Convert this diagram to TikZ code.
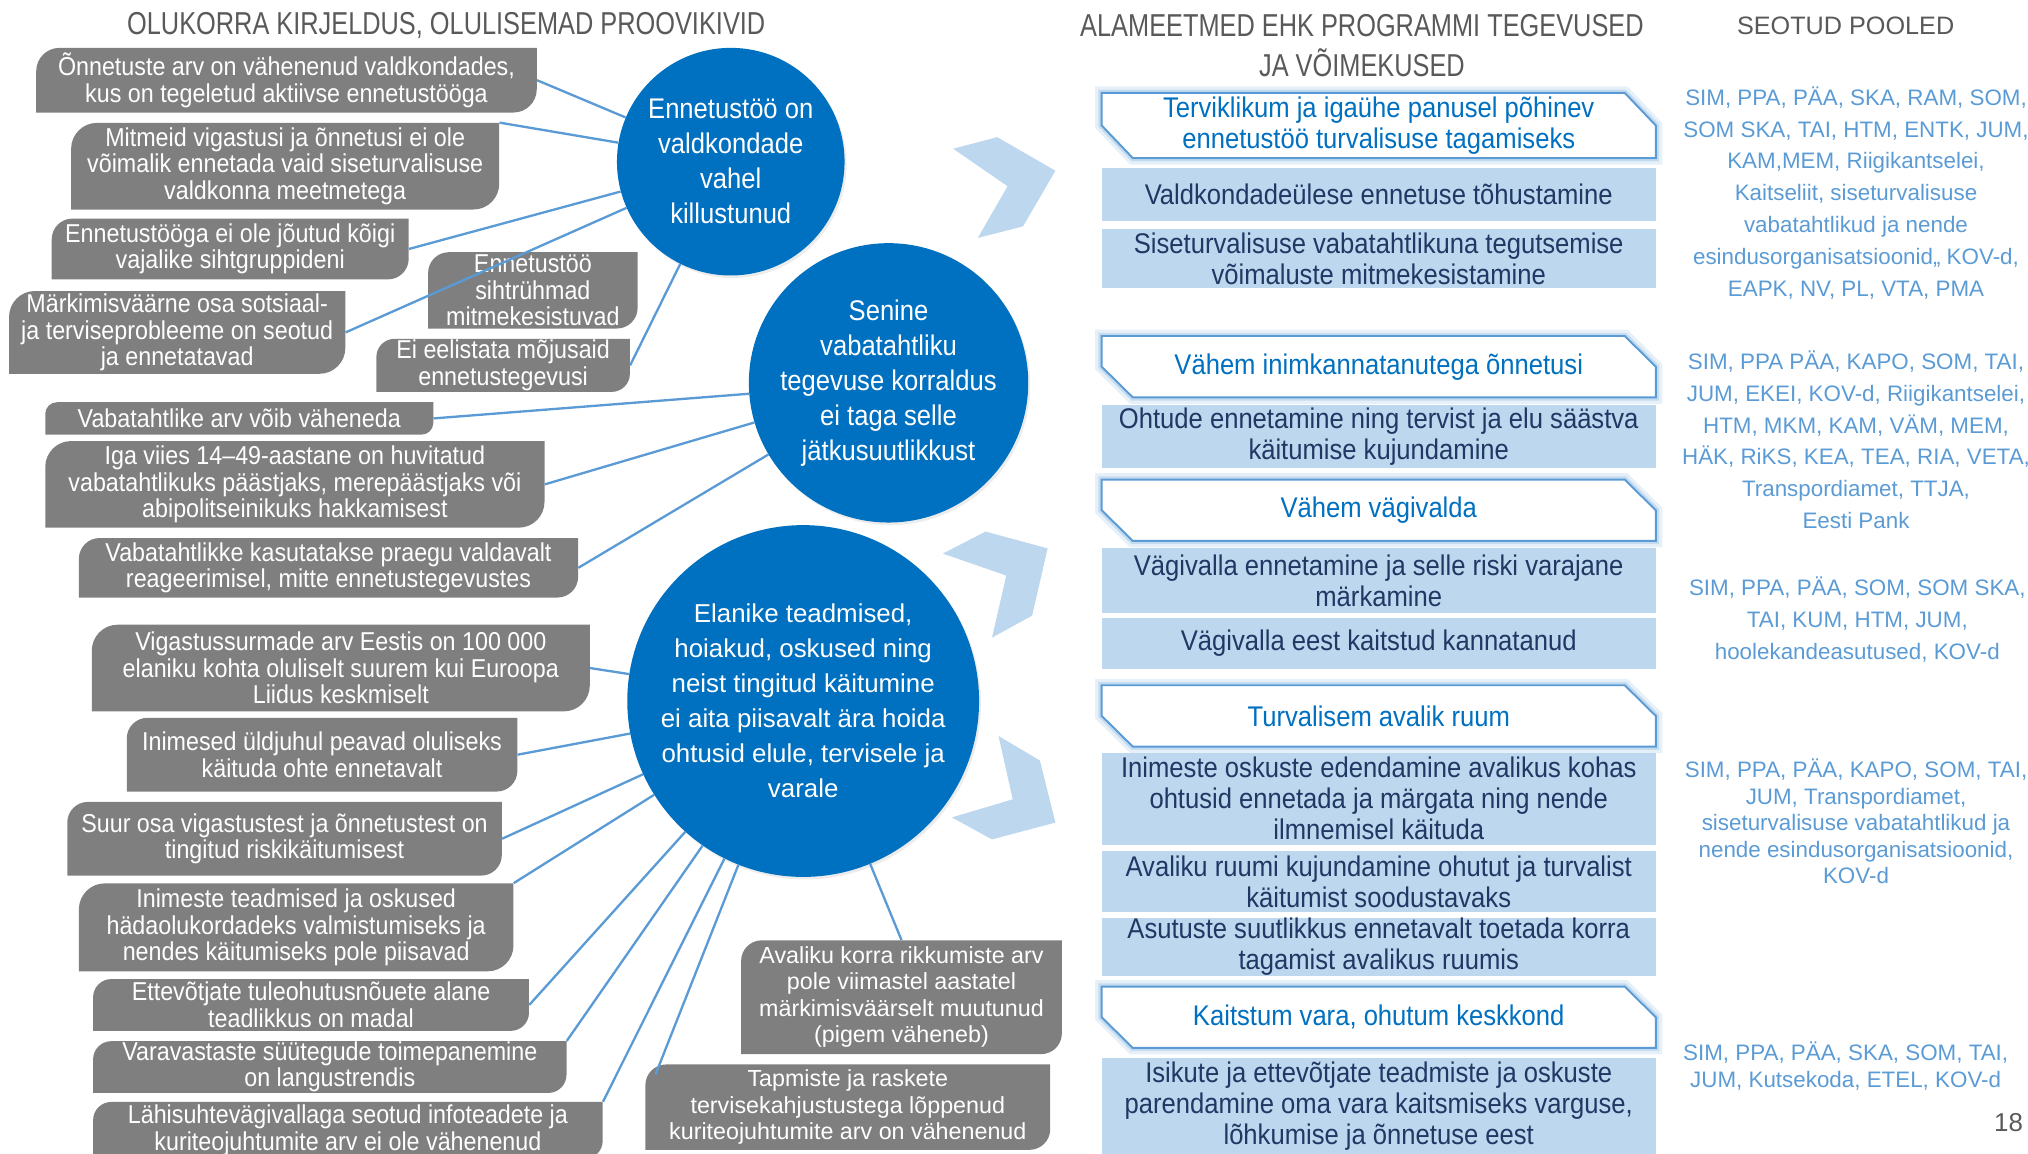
\documentclass[tikz,border=0pt]{standalone}
\usepackage{fontspec}
\setmainfont{Liberation Sans}
\newfontfamily\narrowfont[FakeStretch=0.9]{Liberation Sans}
\newfontfamily\headfont[FakeStretch=0.8]{Liberation Sans}
\usetikzlibrary{calc,backgrounds,shadows}

\definecolor{boxgray}{HTML}{7F7F7F}
\definecolor{circblue}{HTML}{0070C0}
\definecolor{linkblue}{HTML}{5B9BD5}
\definecolor{paleblue}{HTML}{BDD7EE}
\definecolor{navy}{HTML}{1F3864}
\definecolor{headgray}{HTML}{595959}
\definecolor{glowblue}{HTML}{9DC3E6}

\tikzset{
  headline/.style={text=headgray, inner sep=0pt, align=center, font=\headfont\fontsize{24.5}{31}\selectfont},
  case/.style={text=white, inner sep=0pt, align=center, font=\narrowfont\fontsize{20}{20.5}\selectfont,
    path picture={\fill[boxgray] (path picture bounding box.south west)
      -- ([yshift=-#1]path picture bounding box.north west) arc[start angle=180, end angle=90, radius=#1]
      -- (path picture bounding box.north east)
      -- ([yshift=#1]path picture bounding box.south east) arc[start angle=0, end angle=-90, radius=#1]
      -- cycle;}},
  case/.default=16pt,
  fact/.style={case, font=\fontsize{18}{20.5}\selectfont},
  issue/.style={circle, fill=circblue, text=white, inner sep=0pt, align=center,
    font=\narrowfont\fontsize{22}{27}\selectfont,
    drop shadow={opacity=0.15, shadow xshift=1.5pt, shadow yshift=-2pt}},
  task/.style={fill=paleblue, text=navy, inner sep=0pt, align=center, minimum width=428,
    font=\narrowfont\fontsize{22}{24}\selectfont},
  goal/.style={text=circblue, inner sep=0pt, align=center, minimum width=428,
    font=\narrowfont\fontsize{22}{24}\selectfont},
  flag/.style={fill=white, draw=linkblue, line width=1.5pt,
    preaction={draw=glowblue, line width=10pt, opacity=0.25},
    preaction={draw=glowblue, line width=5pt, opacity=0.45}},
  party/.style={text=linkblue, inner sep=0pt, align=center, font=\fontsize{17.3}{24.6}\selectfont},
  link/.style={draw=linkblue, line width=1.8pt},
  hint/.style={fill=paleblue},
}

\begin{document}
\begin{tikzpicture}[x=1pt, y=-1pt]
\useasboundingbox (0,0) rectangle (1568,892);

% headings
\node[headline] (head1) at (345,20) {OLUKORRA KIRJELDUS, OLULISEMAD PROOVIKIVID};
\node[headline] (head2) at (1053,35) {ALAMEETMED EHK PROGRAMMI TEGEVUSED\\JA VÕIMEKUSED};
\node[headline, font=\fontsize{19.5}{24}\selectfont] (head3) at (1427,20) {SEOTUD POOLED};

% problems
\node[issue, minimum size=176] (c1) at (565,125) {Ennetustöö on\\valdkondade\\vahel\\killustunud};
\node[issue, minimum size=216] (c2) at (687,296) {Senine\\vabatahtliku\\tegevuse korraldus\\ei taga selle\\jätkusuutlikkust};
\node[issue, minimum size=272, font=\fontsize{20}{27}\selectfont] (c3) at (621,542) {Elanike teadmised,\\hoiakud, oskused ning\\neist tingitud käitumine\\ei aita piisavalt ära hoida\\ohtusid elule, tervisele ja\\varale};

% challenges
\node[case=18pt, minimum width=387, minimum height=50] (b1) at (221.5,62) {Õnnetuste arv on vähenenud valdkondades,\\kus on tegeletud aktiivse ennetustööga};
\node[case=20pt, minimum width=331, minimum height=67] (b2) at (220.5,128.5) {Mitmeid vigastusi ja õnnetusi ei ole\\võimalik ennetada vaid siseturvalisuse\\valdkonna meetmetega};
\node[case, minimum width=276, minimum height=47] (b3) at (178,192.5) {Ennetustööga ei ole jõutud kõigi\\vajalike sihtgruppideni};
\node[case=20pt, minimum width=260, minimum height=64] (b4) at (137,257) {Märkimisväärne osa sotsiaal-\\ja terviseprobleeme on seotud\\ja ennetatavad};
\node[case, minimum width=162, minimum height=59] (b5) at (412,224.5) {Ennetustöö\\sihtrühmad\\mitmekesistuvad};
\node[case=14pt, minimum width=196, minimum height=41] (b6) at (389,282.5) {Ei eelistata mõjusaid\\ennetustegevusi};
\node[case=9pt, minimum width=300, minimum height=25] (b7) at (185,323.5) {Vabatahtlike arv võib väheneda};
\node[case=20pt, minimum width=386, minimum height=67] (b8) at (228,374.5) {Iga viies 14–49-aastane on huvitatud\\vabatahtlikuks päästjaks, merepäästjaks või\\abipolitseinikuks hakkamisest};
\node[case, minimum width=386, minimum height=46] (b9) at (254,439) {Vabatahtlikke kasutatakse praegu valdavalt\\reageerimisel, mitte ennetustegevustes};
\node[case=20pt, minimum width=385, minimum height=67] (b10) at (263.5,516.5) {Vigastussurmade arv Eestis on 100 000\\elaniku kohta oluliselt suurem kui Euroopa\\Liidus keskmiselt};
\node[case, minimum width=302, minimum height=57] (b11) at (249,583.5) {Inimesed üldjuhul peavad oluliseks\\käituda ohte ennetavalt};
\node[case, minimum width=336, minimum height=57] (b12) at (220,648.5) {Suur osa vigastustest ja õnnetustest on\\tingitud riskikäitumisest};
\node[case=20pt, minimum width=336, minimum height=68] (b13) at (229,717) {Inimeste teadmised ja oskused\\hädaolukordadeks valmistumiseks ja\\nendes käitumiseks pole piisavad};
\node[case=14pt, minimum width=337, minimum height=40] (b14) at (240.5,777) {Ettevõtjate tuleohutusnõuete alane\\teadlikkus on madal};
\node[case=14pt, minimum width=366, minimum height=40] (b15) at (255,825) {Varavastaste süütegude toimepanemine\\on langustrendis};
\node[case=14pt, minimum width=394, minimum height=44] (b16) at (269,874) {Lähisuhtevägivallaga seotud infoteadete ja\\kuriteojuhtumite arv ei ole vähenenud};
\node[fact=18pt, minimum width=248, minimum height=88] (b17) at (697,771) {Avaliku korra rikkumiste arv\\pole viimastel aastatel\\märkimisväärselt muutunud\\(pigem väheneb)};
\node[fact=18pt, minimum width=313, minimum height=66] (b18) at (655.5,856) {Tapmiste ja raskete\\tervisekahjustustega lõppenud\\kuriteojuhtumite arv on vähenenud};

% links to problems
\draw[link] (b1.east) -- (c1);
\draw[link] (b2.north east) -- (c1);
\draw[link] (b3.east) -- (c1);
\draw[link] (b4.east) -- (c1);
\draw[link] (b6.east) -- (c1);
\draw[link] (b7.east) -- (c2);
\draw[link] (b8.east) -- (c2);
\draw[link] (b9.east) -- (c2);
\draw[link] (b10.east) -- (c3);
\draw[link] (b11.east) -- (c3);
\draw[link] (b12.east) -- (c3);
\draw[link] (b13.north east) -- (c3);
\draw[link] (b14.east) -- (c3);
\draw[link] (b15.north east) -- (c3);
\draw[link] (b16.north east) -- (c3);
\draw[link] (b17.north) -- (c3);
\draw[link] ([shift={(8,8)}]b18.north west) -- (c3);

% chevrons
\fill[hint] (737,115) -- (771,106) -- (816,132) -- (791,175) -- (756,184) -- (779,144) -- cycle;
\fill[hint] (729,428) -- (762,411) -- (810,424) -- (798,476) -- (767,493) -- (778,445) -- cycle;
\fill[hint] (772,569) -- (804,588) -- (816,636) -- (767,649) -- (736,632) -- (783,618) -- cycle;

% measures
\node[goal, minimum height=50] (h1) at (1066,97) {Terviklikum ja igaühe panusel põhinev\\ennetustöö turvalisuse tagamiseks};
\node[task, minimum height=41] (r1) at (1066,150.5) {Valdkondadeülese ennetuse tõhustamine};
\node[task, minimum height=46] (r2) at (1066,200) {Siseturvalisuse vabatahtlikuna tegutsemise\\võimaluste mitmekesistamine};
\node[goal, minimum height=47] (h2) at (1066,283.5) {Vähem inimkannatanutega õnnetusi};
\node[task, minimum height=49] (r3) at (1066,337.5) {Ohtude ennetamine ning tervist ja elu säästva\\käitumise kujundamine};
\node[goal, minimum height=47] (h3) at (1066,394.5) {Vähem vägivalda};
\node[task, minimum height=50] (r4) at (1066,449) {Vägivalla ennetamine ja selle riski varajane\\märkamine};
\node[task, minimum height=39] (r5) at (1066,497.5) {Vägivalla eest kaitstud kannatanud};
\node[goal, minimum height=47] (h4) at (1066,553.5) {Turvalisem avalik ruum};
\node[task, minimum height=71] (r6) at (1066,617.5) {Inimeste oskuste edendamine avalikus kohas\\ohtusid ennetada ja märgata ning nende\\ilmnemisel käituda};
\node[task, minimum height=47] (r7) at (1066,681.5) {Avaliku ruumi kujundamine ohutut ja turvalist\\käitumist soodustavaks};
\node[task, minimum height=44] (r8) at (1066,732) {Asutuste suutlikkus ennetavalt toetada korra\\tagamist avalikus ruumis};
\node[goal, minimum height=47] (h5) at (1066,786.5) {Kaitstum vara, ohutum keskkond};
\node[task, minimum height=74] (r9) at (1066,855) {Isikute ja ettevõtjate teadmiste ja oskuste\\parendamine oma vara kaitsmiseks varguse,\\lõhkumise ja õnnetuse eest};

\begin{scope}[on background layer]
  \foreach \g in {h1,h2,h3,h4,h5}
    \filldraw[flag] (\g.north west) -- ($(\g.north east)+(-24,0)$) -- (\g.east) -- (\g.south east)
      -- ($(\g.south west)+(24,0)$) -- (\g.west) -- cycle;
\end{scope}

% parties
\node[party] (p1) at (1435,149) {SIM, PPA, PÄA, SKA, RAM, SOM,\\SOM SKA, TAI, HTM, ENTK, JUM,\\KAM,MEM, Riigikantselei,\\Kaitseliit, siseturvalisuse\\vabatahtlikud ja nende\\esindusorganisatsioonid,, KOV-d,\\EAPK, NV, PL, VTA, PMA};
\node[party] (p2) at (1435,340) {SIM, PPA PÄA, KAPO, SOM, TAI,\\JUM, EKEI, KOV-d, Riigikantselei,\\HTM, MKM, KAM, VÄM, MEM,\\HÄK, RiKS, KEA, TEA, RIA, VETA,\\Transpordiamet, TTJA,\\Eesti Pank};
\node[party] (p3) at (1436,479) {SIM, PPA, PÄA, SOM, SOM SKA,\\TAI, KUM, HTM, JUM,\\hoolekandeasutused, KOV-d};
\node[party, font=\fontsize{17.3}{20.5}\selectfont] (p4) at (1435,635) {SIM, PPA, PÄA, KAPO, SOM, TAI,\\JUM, Transpordiamet,\\siseturvalisuse vabatahtlikud ja\\nende esindusorganisatsioonid,\\KOV-d};
\node[party, font=\fontsize{17.3}{21}\selectfont] (p5) at (1427,824) {SIM, PPA, PÄA, SKA, SOM, TAI,\\JUM, Kutsekoda, ETEL, KOV-d};

\node[text=headgray, inner sep=0pt, font=\fontsize{20}{24}\selectfont] (pg) at (1553,868) {18};
\end{tikzpicture}
\end{document}
